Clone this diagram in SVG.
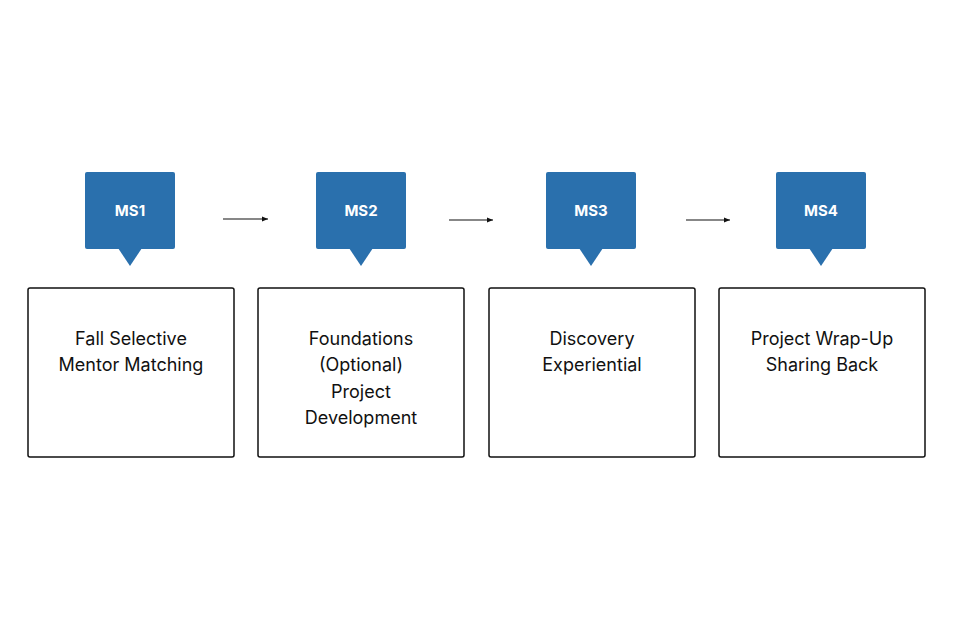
<svg xmlns="http://www.w3.org/2000/svg" width="960" height="639" viewBox="0 0 960 639">
<style>
.c{fill:#2a70ad}
.ct{fill:#fff;font:bold 15px Inter,"Liberation Sans",sans-serif;text-anchor:middle}
.b{fill:#fff;stroke:#111;stroke-width:1.5}
.t{fill:#111;font:18px Inter,"Liberation Sans",sans-serif;text-anchor:middle}
.a{stroke:#111;stroke-width:1.2;fill:none;marker-end:url(#m)}
</style>
<defs><marker id="m" markerWidth="6" markerHeight="6" refX="5" refY="3" orient="auto"><path d="M0,1 L5,3 L0,5Z" fill="#111"/></marker></defs>
<rect width="960" height="639" fill="#fff"/>
<g id="ms1"><rect class="c" x="85" y="172" width="90" height="77" rx="2"/><path class="c" d="M118,248 L142,248 L130,266Z"/><text class="ct" x="130" y="216">MS1</text>
<rect class="b" x="28" y="288" width="206" height="169" rx="2"/><text class="t" x="131" y="345">Fall Selective</text><text class="t" x="131" y="371">Mentor Matching</text></g>
<g id="ms2"><rect class="c" x="316" y="172" width="90" height="77" rx="2"/><path class="c" d="M349,248 L373,248 L361,266Z"/><text class="ct" x="361" y="216">MS2</text>
<rect class="b" x="258" y="288" width="206" height="169" rx="2"/><text class="t" x="361" y="345">Foundations</text><text class="t" x="361" y="371">(Optional)</text><text class="t" x="361" y="398">Project</text><text class="t" x="361" y="424">Development</text></g>
<g id="ms3"><rect class="c" x="546" y="172" width="90" height="77" rx="2"/><path class="c" d="M579,248 L603,248 L591,266Z"/><text class="ct" x="591" y="216">MS3</text>
<rect class="b" x="489" y="288" width="206" height="169" rx="2"/><text class="t" x="592" y="345">Discovery</text><text class="t" x="592" y="371">Experiential</text></g>
<g id="ms4"><rect class="c" x="776" y="172" width="90" height="77" rx="2"/><path class="c" d="M809,248 L833,248 L821,266Z"/><text class="ct" x="821" y="216">MS4</text>
<rect class="b" x="719" y="288" width="206" height="169" rx="2"/><text class="t" x="822" y="345">Project Wrap-Up</text><text class="t" x="822" y="371">Sharing Back</text></g>
<g id="connectors"><line class="a" x1="223" y1="219" x2="268" y2="219"/><line class="a" x1="449" y1="220" x2="493" y2="220"/><line class="a" x1="686" y1="220" x2="730" y2="220"/></g>
</svg>
